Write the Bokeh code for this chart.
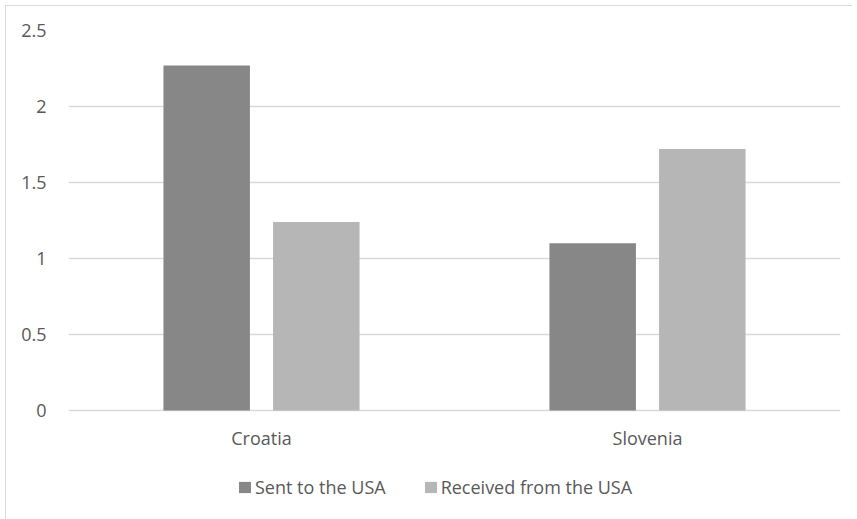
from bokeh.plotting import figure
from bokeh.models import FactorRange, Legend, LegendItem, ColumnDataSource, LabelSet
from bokeh.core.properties import value
from bokeh.transform import dodge
from bokeh.embed import file_html
from bokeh.resources import INLINE

categories = ["Croatia", "Slovenia"]
series_names = ["Sent to the USA", "Received from the USA"]
sent = [2.27, 1.10]
received = [1.24, 1.72]
y_ticks = [0, 0.5, 1, 1.5, 2, 2.5]

FONT = "Open Sans"
FS = "18px"
TXT = "#595959"

src = ColumnDataSource(dict(cat=categories, sent=sent, received=received,
                            base=[0] * len(categories)))

# frame extends below the zero line to host the category labels and legend
p = figure(x_range=FactorRange(factors=categories), y_range=(-0.658, 2.5),
           frame_width=772, frame_height=480,
           min_border_left=62, min_border_top=24, min_border_right=12, min_border_bottom=9,
           output_backend="svg", toolbar_location=None)
p.margin = (5, 0, 0, 5)
p.styles = {"border-top": "1px solid #d9d9d9", "border-left": "1px solid #d9d9d9"}
p.outline_line_color = None

r1 = p.vbar(x=dodge("cat", -0.142, range=p.x_range), top="sent", width=0.224, source=src,
            fill_color="#878787", line_color=None)
r2 = p.vbar(x=dodge("cat", 0.142, range=p.x_range), top="received", width=0.224, source=src,
            fill_color="#b6b6b6", line_color=None)

p.yaxis.ticker = y_ticks
p.yaxis.axis_line_color = None
p.yaxis.major_tick_line_color = None
p.yaxis.minor_tick_line_color = None
p.yaxis.major_label_standoff = 16
p.yaxis.major_label_text_font = FONT
p.yaxis.major_label_text_font_size = FS
p.yaxis.major_label_text_color = TXT

p.xaxis.visible = False
p.xgrid.grid_line_color = None
p.ygrid.grid_line_color = "#d9d9d9"
p.ygrid.grid_line_width = 1.3

cat_labels = LabelSet(x="cat", y="base", text="cat", source=src,
                      text_align="center", text_baseline="middle", y_offset=-28,
                      text_font=value(FONT), text_font_size=value(FS), text_color=TXT)
p.add_layout(cat_labels)

legend = Legend(items=[LegendItem(label=series_names[0], renderers=[r1]),
                       LegendItem(label=series_names[1], renderers=[r2])],
                orientation="horizontal", location=(169, 11),
                label_text_font=FONT, label_text_font_size=FS, label_text_color=TXT,
                glyph_width=15, glyph_height=14, spacing=37, label_standoff=3,
                border_line_color=None, background_fill_alpha=0, margin=0, padding=0)
p.add_layout(legend, "center")

open("out.html", "w").write(file_html(p, INLINE))
